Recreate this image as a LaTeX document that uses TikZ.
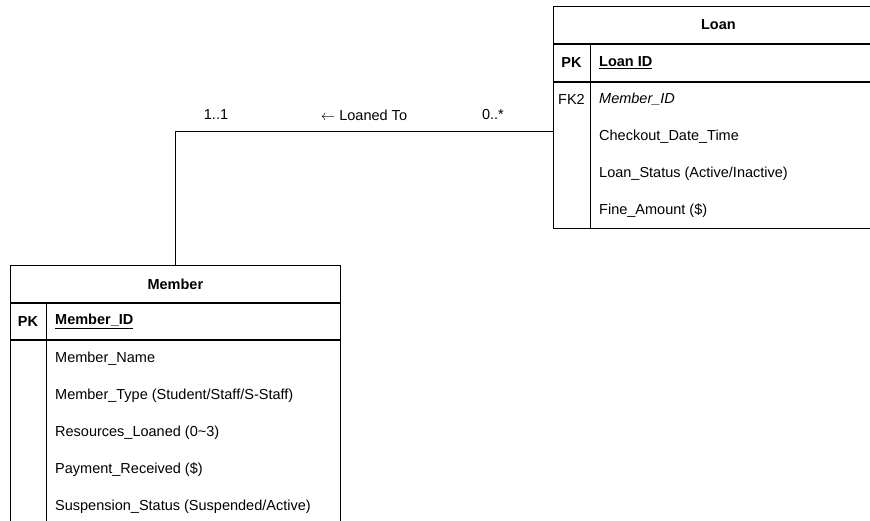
\documentclass[tikz,border=0pt]{standalone}
\usepackage{fontspec}
\setmainfont{Liberation Sans}
\usetikzlibrary{positioning, calc}
\newcommand{\erfont}{\fontsize{14.5}{17}\selectfont}
\tikzstyle{tablehead} = [rectangle, draw=black, line width=0.8pt, minimum width=330pt,
                         minimum height=37pt, inner sep=0pt, font=\erfont\bfseries]
\tikzstyle{tablerow} = [rectangle, draw=black, line width=0.8pt, minimum width=330pt, inner sep=0pt]
\tikzstyle{attr} = [anchor=west, inner sep=0pt, font=\erfont]
\tikzstyle{keycol} = [inner sep=0pt, font=\erfont]
\tikzstyle{rel} = [line width=0.8pt]

\begin{document}
\begin{tikzpicture}[x=1pt, y=-1pt]
\useasboundingbox (0,0) rectangle (870,521);
\clip (0,0) rectangle (870,521);

% Loan table
\node[tablehead, anchor=north west] (loanhead) at (553,6) {Loan};
\node[tablerow, minimum height=37pt, below=0pt of loanhead] (loanpk) {};
\node[tablerow, minimum height=146pt, below=0pt of loanpk] (loanbody) {};
\draw[rel] ($(loanpk.north west)+(37,0)$) -- ($(loanbody.south west)+(37,0)$);
\node[keycol, font=\erfont\bfseries] (loanpkkey) at ($(loanpk.west)+(18.5,0)$) {PK};
\node[attr, font=\erfont\bfseries] (loanid) at ($(loanpk.west)+(46,0)$) {\underline{Loan ID}};
\node[keycol] (loanfk) at ($(loanbody.north west)+(18.5,18)$) {FK2};
\foreach \txt [count=\i] in {\textit{Member\_ID}, Checkout\_Date\_Time,
    Loan\_Status (Active/Inactive), Fine\_Amount (\$)}
  \node[attr] (loanattr\i) at ($(loanbody.north west)+(46,18+37*\i-37)$) {\txt};

% Member table
\node[tablehead, anchor=north west] (memhead) at (10,265) {Member};
\node[tablerow, minimum height=36pt, below=0pt of memhead] (mempk) {};
\node[tablerow, minimum height=240pt, below=0pt of mempk] (membody) {};
\draw[rel] ($(mempk.north west)+(36,0)$) -- ($(membody.south west)+(36,0)$);
\node[keycol, font=\erfont\bfseries] (mempkkey) at ($(mempk.west)+(18,0)$) {PK};
\node[attr, font=\erfont\bfseries] (memid) at ($(mempk.west)+(45,0)$) {\underline{Member\_ID}};
\foreach \txt [count=\i] in {Member\_Name, Member\_Type (Student/Staff/S-Staff),
    Resources\_Loaned (0\textasciitilde 3), Payment\_Received (\$),
    Suspension\_Status (Suspended/Active)}
  \node[attr] (memattr\i) at ($(membody.north west)+(45,19+37*\i-37)$) {\txt};

% relationship
\coordinate (loanjoin) at (553,131);
\draw[rel] (memhead.north) |- (loanjoin);
\node[keycol] (multmem) at (216,115) {1..1};
\node[keycol] (relname) at (364,115) {$\leftarrow$ Loaned To};
\node[keycol] (multloan) at (493,115) {0..*};
\end{tikzpicture}
\end{document}
